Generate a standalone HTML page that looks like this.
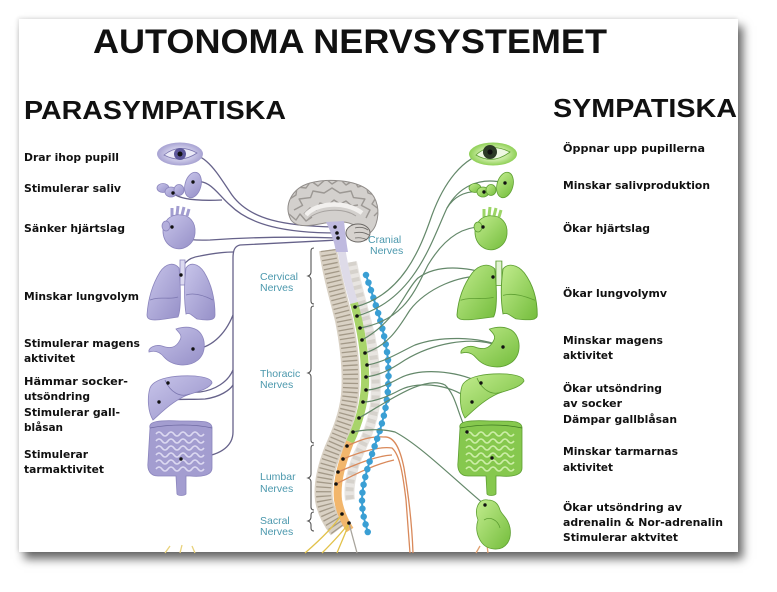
<!DOCTYPE html>
<html><head><meta charset="utf-8"><style>
html,body{margin:0;padding:0;background:#fff;width:777px;height:592px;overflow:hidden}
#card{position:absolute;left:19px;top:19px;width:719px;height:533px;background:#fff;box-shadow:5px 7px 9px rgba(0,0,0,.6),-1px -1px 4px rgba(0,0,0,.12)}
svg{position:absolute;left:0;top:0}
.l{font-family:"DejaVu Sans","Liberation Sans",sans-serif;font-weight:bold;font-size:11px;fill:#111}
.t{font-family:"Liberation Sans",sans-serif;font-weight:bold;fill:#111}
.n{font-family:"Liberation Sans",sans-serif;font-size:10.5px;fill:#4b98ad}
</style></head><body>
<div id="card"></div>
<svg width="777" height="592" viewBox="0 0 777 592">
<defs>
<clipPath id="card"><rect x="19" y="19" width="719" height="533"/></clipPath>
<clipPath id="brainclip"><path d="M291,220 C283,205 292,188 310,183 C328,178 355,180 368,190 C378,198 380,212 376,224 C374,230 370,234 364,236 C360,228 352,222 342,222 L325,223 C310,226 297,228 291,220 Z"/></clipPath>
<radialGradient id="pe"><stop offset="0" stop-color="#f2f1fa"/><stop offset=".6" stop-color="#c9c6e6"/><stop offset="1" stop-color="#a7a2d2"/></radialGradient>
<radialGradient id="ge"><stop offset="0" stop-color="#f2fae8"/><stop offset=".6" stop-color="#c3e89a"/><stop offset="1" stop-color="#8fd056"/></radialGradient>
<linearGradient id="pf" x1="0" y1="0" x2="1" y2="1"><stop offset="0" stop-color="#c8c5ea"/><stop offset="1" stop-color="#9690c8"/></linearGradient>
<linearGradient id="gf" x1="0" y1="0" x2="1" y2="1"><stop offset="0" stop-color="#c2ec8e"/><stop offset="1" stop-color="#74bd3c"/></linearGradient>
</defs>
<g clip-path="url(#card)">

<!-- titles -->
<text class="t" x="93" y="53" font-size="34" textLength="514" lengthAdjust="spacingAndGlyphs">AUTONOMA NERVSYSTEMET</text>
<text class="t" x="24" y="119" font-size="26" textLength="262" lengthAdjust="spacingAndGlyphs">PARASYMPATISKA</text>
<text class="t" x="553" y="117" font-size="26" textLength="184" lengthAdjust="spacingAndGlyphs">SYMPATISKA</text>

<!-- left labels -->
<text class="l" x="24" y="161" textLength="95" lengthAdjust="spacingAndGlyphs">Drar ihop pupill</text>
<text class="l" x="24" y="192" textLength="97" lengthAdjust="spacingAndGlyphs">Stimulerar saliv</text>
<text class="l" x="24" y="232" textLength="101" lengthAdjust="spacingAndGlyphs">Sänker hjärtslag</text>
<text class="l" x="24" y="300" textLength="115" lengthAdjust="spacingAndGlyphs">Minskar lungvolym</text>
<text class="l" x="24" y="347" textLength="116" lengthAdjust="spacingAndGlyphs">Stimulerar magens</text>
<text class="l" x="24" y="362" textLength="51" lengthAdjust="spacingAndGlyphs">aktivitet</text>
<text class="l" x="24" y="385" textLength="104" lengthAdjust="spacingAndGlyphs">Hämmar socker-</text>
<text class="l" x="24" y="400" textLength="66" lengthAdjust="spacingAndGlyphs">utsöndring</text>
<text class="l" x="24" y="416" textLength="96" lengthAdjust="spacingAndGlyphs">Stimulerar gall-</text>
<text class="l" x="24" y="431" textLength="39" lengthAdjust="spacingAndGlyphs">blåsan</text>
<text class="l" x="24" y="458" textLength="64" lengthAdjust="spacingAndGlyphs">Stimulerar</text>
<text class="l" x="24" y="473" textLength="80" lengthAdjust="spacingAndGlyphs">tarmaktivitet</text>

<!-- right labels -->
<text class="l" x="563" y="152" textLength="142" lengthAdjust="spacingAndGlyphs">Öppnar upp pupillerna</text>
<text class="l" x="563" y="189" textLength="147" lengthAdjust="spacingAndGlyphs">Minskar salivproduktion</text>
<text class="l" x="563" y="232" textLength="87" lengthAdjust="spacingAndGlyphs">Ökar hjärtslag</text>
<text class="l" x="563" y="297" textLength="104" lengthAdjust="spacingAndGlyphs">Ökar lungvolymv</text>
<text class="l" x="563" y="344" textLength="100" lengthAdjust="spacingAndGlyphs">Minskar magens</text>
<text class="l" x="563" y="359" textLength="50" lengthAdjust="spacingAndGlyphs">aktivitet</text>
<text class="l" x="563" y="392" textLength="99" lengthAdjust="spacingAndGlyphs">Ökar utsöndring</text>
<text class="l" x="563" y="407" textLength="59" lengthAdjust="spacingAndGlyphs">av socker</text>
<text class="l" x="563" y="423" textLength="114" lengthAdjust="spacingAndGlyphs">Dämpar gallblåsan</text>
<text class="l" x="563" y="455" textLength="115" lengthAdjust="spacingAndGlyphs">Minskar tarmarnas</text>
<text class="l" x="563" y="471" textLength="50" lengthAdjust="spacingAndGlyphs">aktivitet</text>
<text class="l" x="563" y="511" textLength="119" lengthAdjust="spacingAndGlyphs">Ökar utsöndring av</text>
<text class="l" x="563" y="526" textLength="160" lengthAdjust="spacingAndGlyphs">adrenalin &amp; Nor-adrenalin</text>
<text class="l" x="563" y="541" textLength="115" lengthAdjust="spacingAndGlyphs">Stimulerar aktvitet</text>

<!-- nerve region labels -->
<text class="n" x="260" y="280">Cervical</text><text class="n" x="260" y="291">Nerves</text>
<text class="n" x="260" y="377">Thoracic</text><text class="n" x="260" y="388">Nerves</text>
<text class="n" x="260" y="480">Lumbar</text><text class="n" x="260" y="492">Nerves</text>
<text class="n" x="260" y="524">Sacral</text><text class="n" x="260" y="535">Nerves</text>
<text class="n" x="368" y="243">Cranial</text><text class="n" x="370" y="254">Nerves</text>

<!-- bracket -->
<g fill="none" stroke="#555" stroke-width="1.1">
<path d="M314,248 Q311,248 311,251 L311,272 Q311,275 308,276 Q311,277 311,280 L311,301 Q311,304 314,304"/>
<path d="M314,306 Q311,306 311,309 L311,369 Q311,372 308,373 Q311,374 311,377 L311,440 Q311,443 314,443"/>
<path d="M314,445 Q311,445 311,448 L311,474 Q311,477 308,478 Q311,479 311,482 L311,507 Q311,510 314,510"/>
<path d="M314,512 Q311,512 311,515 L311,517 Q311,520 308,521 Q311,522 311,525 L311,528 Q311,531 314,531"/>
</g>

<!-- spine: vertebral column -->
<path d="M328,250 C331,272 338,296 344,320 C349,345 352,370 350,395 C348,415 341,432 333,450 C326,468 322,485 324,500 C326,512 332,522 338,530" fill="none" stroke="#d9d1c4" stroke-width="18"/>
<path d="M328,250 C331,272 338,296 344,320 C349,345 352,370 350,395 C348,415 341,432 333,450 C326,468 322,485 324,500 C326,512 332,522 338,530" fill="none" stroke="#a39988" stroke-width="15" stroke-dasharray="1.3 3.2"/>
<!-- processes -->
<path d="M352,262 C356,285 364,310 370,335 C375,360 377,385 375,405 C372,425 365,440 358,455 C352,470 348,487 350,500" fill="none" stroke="#e8e5e1" stroke-width="10"/>
<path d="M352,262 C356,285 364,310 370,335 C375,360 377,385 375,405 C372,425 365,440 358,455 C352,470 348,487 350,500" fill="none" stroke="#d6d2cc" stroke-width="8" stroke-dasharray="4 4"/>
<!-- cord -->
<path d="M341,246 C344,270 350,290 354,303" fill="none" stroke="#dedbe8" stroke-width="8"/>
<path d="M354,303 C360,325 366,355 365,385 C364,405 358,425 350,442" fill="none" stroke="#a8d46a" stroke-width="8"/>
<path d="M350,442 C342,462 336,482 338,500 C340,512 345,522 350,530" fill="none" stroke="#f2b66c" stroke-width="8"/>

<!-- sacral / lumbar nerves -->
<g fill="none" stroke-width="1.3">
<path d="M342,514 C335,525 320,540 305,553" stroke="#e2c24a"/>
<path d="M349,523 C340,535 330,545 322,553" stroke="#e2c24a"/>
<path d="M349,523 C345,535 340,545 337,553" stroke="#e2c24a"/>
<path d="M349,523 C352,535 355,545 357,553" stroke="#a8a49c"/>
<path d="M165,553 L170,546 M180,553 L182,545 M195,553 L192,546" stroke="#e9d27a"/>
<path d="M347,446 C360,440 370,436 384,437 C394,436 400,448 404,468 C409,498 412,525 413,553" stroke="#d9895a"/>
<path d="M343,459 C360,452 380,446 392,448 C400,455 403,475 406,500 C408,525 409,540 410,553" stroke="#d9895a"/>
<path d="M338,472 C355,465 375,456 392,455" stroke="#d9895a"/>
<path d="M336,484 C352,476 372,465 394,460" stroke="#d9895a"/>
<path d="M476,553 L480,546 M488,553 L487,545" stroke="#e0a070"/>
</g>

<!-- blue sympathetic chain -->
<path d="M366,275 C374,300 385,330 388,360 C390,390 386,410 380,430 C372,455 362,480 362,500 C362,515 366,525 368,533" fill="none" stroke="#3a9fd4" stroke-width="2"/>
<path d="M366,275 C374,300 385,330 388,360 C390,390 386,410 380,430 C372,455 362,480 362,500 C362,515 366,525 368,533" fill="none" stroke="#3a9fd4" stroke-width="6.5" stroke-dasharray="0 8" stroke-linecap="round"/>

<!-- right (sympathetic) nerves -->
<g fill="none" stroke="#64886a" stroke-width="1.2">
<path d="M490,152 C462,156 443,185 432,215 C420,250 402,295 355,307"/>
<path d="M505,183 C478,176 458,188 447,208 C432,240 415,300 357,316"/>
<path d="M484,192 C468,190 455,195 447,208"/>
<path d="M483,227 C458,226 440,245 428,265 C415,290 405,320 360,328"/>
<path d="M493,277 C475,268 440,262 418,278 C405,290 398,320 362,340"/>
<path d="M493,277 C460,272 425,290 410,310 C400,325 390,345 365,353"/>
<path d="M503,347 C478,336 440,336 415,345 C400,352 385,362 367,365"/>
<path d="M503,347 C470,334 430,345 405,360 C390,370 380,375 366,377"/>
<path d="M481,383 C455,370 420,368 400,378 C385,386 375,390 366,390"/>
<path d="M472,402 C455,385 420,380 400,390 C385,398 372,402 363,402"/>
<path d="M467,432 C458,415 456,395 445,385 C425,375 390,400 359,418"/>
<path d="M485,505 C455,480 420,445 395,432 C380,428 362,430 353,432"/>
</g>

<!-- left (parasympathetic) nerves -->
<g fill="none" stroke="#66628a" stroke-width="1.3">
<path d="M180,154 C205,150 215,170 232,195 C250,220 285,226 335,227"/>
<path d="M193,182 C210,178 218,195 230,205 C250,225 285,233 337,233"/>
<path d="M173,193 C180,200 200,201 222,200"/>
<path d="M172,227 C176,238 185,241 210,240 C240,238 285,236 338,238"/>
<path d="M338,240 C300,242 260,244 240,245 C235,246 233,250 233,258 L233,432 C233,445 222,455 200,457 L181,459"/>
<path d="M181,275 C182,265 186,258 200,256 C215,253 226,252 233,252"/>
<path d="M193,349 C210,349 225,335 233,315"/>
<path d="M168,383 C175,390 185,393 200,392 C215,390 228,382 233,370"/>
<path d="M159,402 C170,398 190,400 205,399 C220,397 230,390 233,385"/>
</g>

<!-- brain -->
<path d="M291,220 C283,205 292,188 310,183 C328,178 355,180 368,190 C378,198 380,212 376,224 C374,230 370,234 364,236 C360,228 352,222 342,222 L325,223 C310,226 297,228 291,220 Z" fill="#d3d0cd" stroke="#8f8b88" stroke-width="1"/>
<g clip-path="url(#brainclip)" fill="none" stroke="#9c9894" stroke-width="1.4" stroke-linejoin="round">
<polyline points="294,210 302.6,205.4 299.1,199 310.5,197.6 313,191 324.1,193 332,188 339.9,193 351,191 353.5,197.6 364.9,199 361.4,205.4 370,210 366,218"/>
<polyline points="288,200 296,195 297,187 306,188 311,181 318,186 326,179 332,184 340,179 346,185 354,180 358,187 366,185 368,193 377,196 372,204 380,210 374,216"/>
<polyline points="304,214 310,208 316,210 320,203 328,205 334,200 340,204 346,201 352,206 358,205"/>
<polyline points="289,214 296,220 300,214 306,221 312,217"/>
</g>
<path d="M306,215 C315,203 345,200 362,213" fill="none" stroke="#f2f0ee" stroke-width="4.5"/>
<path d="M308,219 C318,209 343,207 356,216" fill="none" stroke="#a7a3a0" stroke-width="1"/>
<ellipse cx="358" cy="233" rx="12" ry="9" fill="#d6d2ce" stroke="#6c6966" stroke-width="1"/>
<path d="M355,228 Q362,226 368,230 M354,233 Q362,231 369,235 M355,238 Q362,237 367,240" fill="none" stroke="#6c6966" stroke-width=".8"/>
<path d="M326,222 C330,230 334,240 336,252 L348,252 C346,240 345,230 344,221 Z" fill="#bfbadf"/>
<circle cx="335" cy="227" r="1.8" fill="#111"/><circle cx="337" cy="233" r="1.8" fill="#111"/><circle cx="338" cy="238" r="1.8" fill="#111"/>

<!-- cord dots -->
<g fill="#111">
<circle cx="355" cy="307" r="1.8"/><circle cx="357" cy="316" r="1.8"/><circle cx="360" cy="328" r="1.8"/><circle cx="362" cy="340" r="1.8"/><circle cx="365" cy="353" r="1.8"/><circle cx="367" cy="365" r="1.8"/><circle cx="366" cy="377" r="1.8"/><circle cx="366" cy="390" r="1.8"/><circle cx="363" cy="402" r="1.8"/><circle cx="359" cy="418" r="1.8"/><circle cx="353" cy="432" r="1.8"/><circle cx="347" cy="446" r="1.8"/><circle cx="343" cy="459" r="1.8"/><circle cx="338" cy="472" r="1.8"/><circle cx="336" cy="484" r="1.8"/><circle cx="342" cy="514" r="1.8"/><circle cx="349" cy="523" r="1.8"/>
</g>

<!-- ===== LEFT ORGANS (purple) ===== -->
<g stroke="#8b85bd" stroke-width=".8">
<ellipse cx="180" cy="154" rx="23" ry="11.5" fill="url(#pe)" stroke="none"/>
<path d="M164,155 Q179,143 197,153 Q181,164 164,155 Z" fill="#ebeaf7" stroke="#7c77b0"/>
<circle cx="180" cy="154" r="6" fill="#5d589a" stroke="none"/>
<ellipse cx="193" cy="185" rx="8" ry="13" transform="rotate(15 193 185)" fill="url(#pf)"/>
<ellipse cx="163" cy="188" rx="6" ry="4.5" fill="url(#pf)"/>
<ellipse cx="171" cy="192" rx="6" ry="5" fill="url(#pf)"/>
<ellipse cx="179" cy="190" rx="5" ry="5.5" fill="url(#pf)"/>
<path d="M172,216 L172,208 M177,215 L178,206 M182,215 L184,207 M187,216 L189,209" stroke="#a29dd0" stroke-width="3" fill="none"/>
<path d="M167,220 C160,228 162,243 174,248 C183,251 194,245 195,233 C196,222 189,215 181,215 C176,214 170,216 167,220 Z" fill="url(#pf)"/>
<ellipse cx="166" cy="226" rx="4" ry="5" fill="#b3aedc"/>
<rect x="180" y="260" width="5" height="25" fill="#dcdaf0"/>
<path d="M179,268 C174,262 166,263 160,272 C152,285 148,300 147,315 C147,320 152,321 165,319 L178,317 C181,310 181,290 179,268 Z" fill="url(#pf)"/>
<path d="M186,268 C190,262 198,263 204,272 C212,285 215,300 215,315 C215,320 210,321 197,319 C192,316 190,312 186,314 C184,300 184,285 186,268 Z" fill="url(#pf)"/>
<path d="M150,300 C160,296 170,300 178,297 M186,295 C195,292 205,296 213,300" fill="none" stroke="#7c77b0"/>
<path d="M176,329 C182,327 190,326 197,330 C206,336 207,352 198,360 C188,368 172,366 164,357 C160,352 155,350 149,352 C148,348 155,344 162,346 C170,349 176,348 180,340 C183,335 178,332 176,329 Z" fill="url(#pf)"/>
<path d="M150,388 C154,378 175,375 195,376 C205,377 212,379 212,383 C208,390 195,392 185,396 C172,402 162,412 153,420 C148,412 147,398 150,388 Z" fill="url(#pf)"/>
<path d="M165,380 C170,392 180,398 190,394" fill="none" stroke="#7c77b0"/>
<path d="M150,428 C148,421 160,420 180,421 C200,421 212,420 212,428 L212,468 C212,476 200,477 190,476 L186,476 L186,494 C184,496 178,496 177,494 L176,476 L158,476 C150,476 147,470 148,462 Z" fill="#a39dd0"/>
<path d="M156,434 q3,-4 6,0 t6,0 t6,0 t6,0 t6,0 t6,0 t6,0 t6,0 M156,441 q3,-4 6,0 t6,0 t6,0 t6,0 t6,0 t6,0 t6,0 t6,0 M156,448 q3,-4 6,0 t6,0 t6,0 t6,0 t6,0 t6,0 t6,0 t6,0 M156,455 q3,-4 6,0 t6,0 t6,0 t6,0 t6,0 t6,0 t6,0 t6,0 M156,462 q3,-4 6,0 t6,0 t6,0 t6,0 t6,0 t6,0 t6,0 t6,0 M156,469 q3,-4 6,0 t6,0 t6,0 t6,0 t6,0 t6,0 t6,0 t6,0" fill="none" stroke="#dcd9f1" stroke-width="1.6"/>
<path d="M150,428 C170,424 195,424 212,428" fill="none" stroke="#6d68a0"/>
</g>
<g fill="#111">
<circle cx="180" cy="154" r="2.5"/><circle cx="193" cy="182" r="1.7"/><circle cx="173" cy="193" r="1.7"/><circle cx="172" cy="227" r="1.7"/><circle cx="181" cy="275" r="1.7"/><circle cx="193" cy="349" r="1.7"/><circle cx="168" cy="383" r="1.7"/><circle cx="159" cy="402" r="1.7"/><circle cx="181" cy="459" r="1.7"/>
</g>

<!-- ===== RIGHT ORGANS (green) ===== -->
<g stroke="#5e9f32" stroke-width=".8">
<ellipse cx="493" cy="154" rx="24" ry="11.5" fill="url(#ge)" stroke="none"/>
<path d="M476,155 Q490,142 510,152 Q493,165 476,155 Z" fill="#eef8e2"/>
<circle cx="490" cy="152" r="7" fill="#2c3a26" stroke="none"/>
<g transform="translate(312,0)">
<ellipse cx="193" cy="185" rx="8" ry="13" transform="rotate(15 193 185)" fill="url(#gf)"/>
<ellipse cx="163" cy="188" rx="6" ry="4.5" fill="url(#gf)"/>
<ellipse cx="171" cy="192" rx="6" ry="5" fill="url(#gf)"/>
<ellipse cx="179" cy="190" rx="5" ry="5.5" fill="url(#gf)"/>
</g>
<g transform="translate(312,1)">
<path d="M172,216 L172,208 M177,215 L178,206 M182,215 L184,207 M187,216 L189,209" stroke="#9cd566" stroke-width="3" fill="none"/>
<path d="M167,220 C160,228 162,243 174,248 C183,251 194,245 195,233 C196,222 189,215 181,215 C176,214 170,216 167,220 Z" fill="url(#gf)"/>
<ellipse cx="166" cy="226" rx="4" ry="5" fill="#a8dc74"/>
</g>
<g transform="translate(457,263) scale(1.18,0.98) translate(-147,-262)">
<rect x="180" y="260" width="5" height="25" fill="#e2f3d2"/>
<path d="M179,268 C174,262 166,263 160,272 C152,285 148,300 147,315 C147,320 152,321 165,319 L178,317 C181,310 181,290 179,268 Z" fill="url(#gf)"/>
<path d="M186,268 C190,262 198,263 204,272 C212,285 215,300 215,315 C215,320 210,321 197,319 C192,316 190,312 186,314 C184,300 184,285 186,268 Z" fill="url(#gf)"/>
<path d="M150,300 C160,296 170,300 178,297 M186,295 C195,292 205,296 213,300" fill="none"/>
</g>
<g transform="translate(460,327) scale(1.05,1.05) translate(-148,-327)">
<path d="M176,329 C182,327 190,326 197,330 C206,336 207,352 198,360 C188,368 172,366 164,357 C160,352 155,350 149,352 C148,348 155,344 162,346 C170,349 176,348 180,340 C183,335 178,332 176,329 Z" fill="url(#gf)"/>
</g>
<g transform="translate(312,-2)">
<path d="M150,388 C154,378 175,375 195,376 C205,377 212,379 212,383 C208,390 195,392 185,396 C172,402 162,412 153,420 C148,412 147,398 150,388 Z" fill="url(#gf)"/>
<path d="M165,380 C170,392 180,398 190,394" fill="none"/>
</g>
<g transform="translate(310,0)">
<path d="M150,428 C148,421 160,420 180,421 C200,421 212,420 212,428 L212,468 C212,476 200,477 190,476 L186,476 L186,494 C184,496 178,496 177,494 L176,476 L158,476 C150,476 147,470 148,462 Z" fill="#86c84e"/>
<path d="M156,434 q3,-4 6,0 t6,0 t6,0 t6,0 t6,0 t6,0 t6,0 t6,0 M156,441 q3,-4 6,0 t6,0 t6,0 t6,0 t6,0 t6,0 t6,0 t6,0 M156,448 q3,-4 6,0 t6,0 t6,0 t6,0 t6,0 t6,0 t6,0 t6,0 M156,455 q3,-4 6,0 t6,0 t6,0 t6,0 t6,0 t6,0 t6,0 t6,0 M156,462 q3,-4 6,0 t6,0 t6,0 t6,0 t6,0 t6,0 t6,0 t6,0 M156,469 q3,-4 6,0 t6,0 t6,0 t6,0 t6,0 t6,0 t6,0 t6,0" fill="none" stroke="#cdeea8" stroke-width="1.6"/>
<path d="M150,428 C170,424 195,424 212,428" fill="none" stroke="#3f7a22"/>
</g>
<path d="M488,500 C478,498 474,510 478,520 C474,532 480,548 494,549 C506,550 512,540 510,528 C508,518 502,515 500,510 C498,503 494,500 488,500 Z" fill="url(#gf)"/>
<path d="M484,520 C490,516 498,520 500,528" fill="none"/>
</g>
<g fill="#111">
<circle cx="490" cy="152" r="2.6"/><circle cx="505" cy="183" r="1.7"/><circle cx="484" cy="192" r="1.7"/><circle cx="483" cy="227" r="1.7"/><circle cx="493" cy="277" r="1.7"/><circle cx="503" cy="347" r="1.7"/><circle cx="481" cy="383" r="1.7"/><circle cx="472" cy="402" r="1.7"/><circle cx="467" cy="432" r="1.7"/><circle cx="492" cy="458" r="1.7"/><circle cx="485" cy="505" r="1.7"/>
</g>

</g>
</svg>
</body></html>
